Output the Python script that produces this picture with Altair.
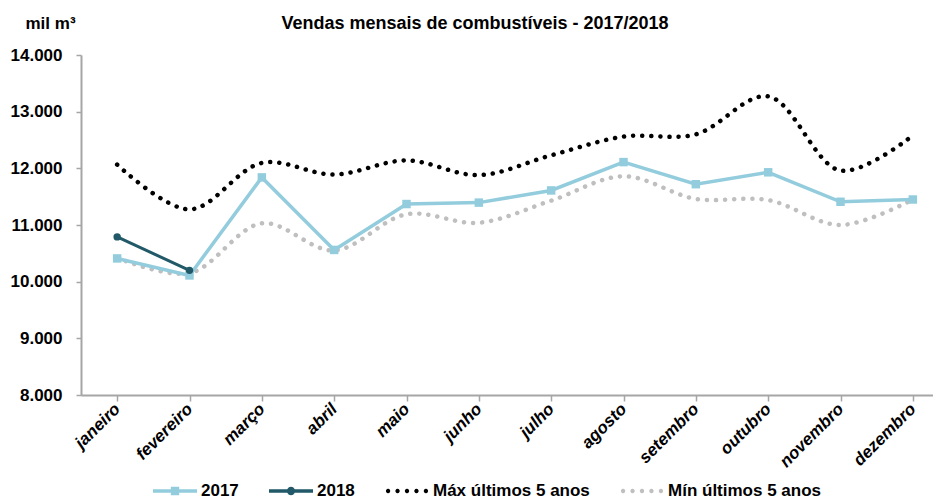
import math
import altair as alt
import pandas as pd

months = ["janeiro", "fevereiro", "março", "abril", "maio", "junho", "julho",
          "agosto", "setembro", "outubro", "novembro", "dezembro"]
v2017 = [10410, 10110, 11840, 10560, 11370, 11395, 11610, 12110, 11720, 11930, 11410, 11450]
v2018 = [10790, 10200]
vmax = [12065, 11275, 12095, 11890, 12140, 11880, 12230, 12560, 12600, 13270, 11960, 12580]
vmin = [10420, 10150, 11030, 10550, 11190, 11040, 11430, 11860, 11460, 11440, 11000, 11450]
series = ["2017", "2018", "Máx últimos 5 anos", "Mín últimos 5 anos"]
colors = ["#93CDDD", "#215968", "#000000", "#BFBFBF"]
y_ticks = [8000, 9000, 10000, 11000, 12000, 13000, 14000]

FONT = "Liberation Sans"

d17 = pd.DataFrame({"mes": months, "v": v2017})
d18 = pd.DataFrame({"mes": months[:len(v2018)], "v": v2018})
dmax = pd.DataFrame({"mes": months, "v": vmax})
dmin = pd.DataFrame({"mes": months, "v": vmin})
dleg = pd.DataFrame({"serie": series})

# legend symbol paths (unit coords, [-1,1] horizontally)
def rect(x0, y0, x1, y1):
    return f"M{x0:.3f},{y0:.3f}H{x1:.3f}V{y1:.3f}H{x0:.3f}Z"

def circ(cx, cy, r, n=12):
    pts = [(cx + r * math.cos(2 * math.pi * i / n), cy + r * math.sin(2 * math.pi * i / n)) for i in range(n)]
    return "M" + "L".join(f"{x:.3f},{y:.3f}" for x, y in pts) + "Z"

lw = 0.08
p2017 = rect(-1, -lw, 1, lw) + rect(-0.19, -0.19, 0.19, 0.19)
p2018 = rect(-1, -lw, 1, lw) + circ(0, 0, 0.19)
pdots = "".join(circ(c, 0, 0.1) for c in [-0.86, -0.43, 0, 0.43, 0.86])
shapes = [p2017, p2018, pdots, pdots]

xscale = alt.Scale(domain=months, range=[0, 868], paddingInner=0, paddingOuter=0)
yscale = alt.Scale(domain=[8000, 14000], nice=False, zero=False)

x_enc = alt.X("mes:N", scale=xscale, sort=months,
              axis=alt.Axis(title=None, bandPosition=0, grid=True, gridColor="white", gridWidth=1.5,
                            domainColor="#A6A6A6", domainWidth=2, tickColor="#A6A6A6", tickWidth=1.5,
                            tickSize=6, labelAngle=-45, labelAlign="right", labelBaseline="middle",
                            labelFont=FONT, labelFontSize=17, labelFontWeight="bold",
                            labelFontStyle="italic", labelColor="black", labelPadding=5))
y_enc = alt.Y("v:Q", scale=yscale,
              axis=alt.Axis(values=y_ticks, grid=True, gridColor="white", gridWidth=1.5,
                            domainColor="#A6A6A6", domainWidth=2, tickColor="#A6A6A6", tickWidth=1.5,
                            tickSize=5, labelFont=FONT, labelFontSize=17, labelFontWeight="bold",
                            labelColor="black", labelPadding=14,
                            labelExpr="replace(format(datum.value, ','), ',', '.')",
                            title="mil m³", titleAngle=0, titleAlign="left", titleBaseline="alphabetic",
                            titleX=-56, titleY=-27, titleFont=FONT, titleFontSize=17,
                            titleFontWeight="bold", titleColor="black"))

base_enc = dict(x=x_enc, y=y_enc)

line_max = alt.Chart(dmax).mark_line(color="#000000", strokeWidth=4.5, strokeDash=[0.1, 9],
                                      strokeCap="round", interpolate="catmull-rom").encode(**base_enc)
line_min = alt.Chart(dmin).mark_line(color="#BFBFBF", strokeWidth=4.5, strokeDash=[0.1, 9],
                                      strokeCap="round", interpolate="catmull-rom").encode(**base_enc)
line17 = alt.Chart(d17).mark_line(color=colors[0], strokeWidth=3.5).encode(**base_enc)
pts17 = alt.Chart(d17).mark_square(color=colors[0], size=72, opacity=1).encode(**base_enc)
line18 = alt.Chart(d18).mark_line(color=colors[1], strokeWidth=3).encode(**base_enc)
pts18 = alt.Chart(d18).mark_circle(color=colors[1], size=55, opacity=1).encode(**base_enc)

legend_layer = alt.Chart(dleg).transform_filter("false").mark_point(filled=True, opacity=1).encode(
    color=alt.Color("serie:N", scale=alt.Scale(domain=series, range=colors),
                    legend=alt.Legend(title=None, orient="none", direction="horizontal",
                                      legendX=72, legendY=414, columnPadding=30, padding=0,
                                      symbolSize=1936, symbolStrokeWidth=0, labelOffset=4,
                                      labelFont=FONT, labelFontSize=17, labelFontWeight="bold",
                                      labelColor="black", labelLimit=400)),
    shape=alt.Shape("serie:N", scale=alt.Scale(domain=series, range=shapes), legend=None),
)

chart = alt.layer(line_min, line_max, line17, pts17, line18, pts18, legend_layer).properties(
    width=852, height=340,
    title=alt.TitleParams("Vendas mensais de combustíveis - 2017/2018", font=FONT, fontSize=18,
                          fontWeight="bold", color="black", anchor="middle", frame="group",
                          offset=0, dx=-32, dy=19),
    autosize=alt.AutoSizeParams(type="none"),
    padding={"left": 73, "top": 47, "right": 0, "bottom": 104},
).configure_view(fill="#F2F2F2", stroke=None).configure(background="white")

chart.save("out.html", embed_options={"renderer": "svg", "actions": False})
